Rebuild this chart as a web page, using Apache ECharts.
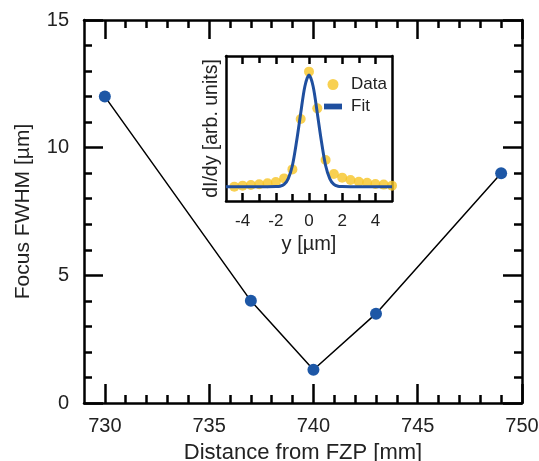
<!DOCTYPE html>
<html><head><meta charset="utf-8">
<script src="https://cdn.jsdelivr.net/npm/echarts@6/dist/echarts.min.js"></script>
<style>html,body{margin:0;padding:0;background:#fff}#c{width:539px;height:461px}</style>
</head><body><div id="c"></div>
<script>
// Main data
const distance = [730, 737, 740, 743, 749];
const fwhm = [12, 4, 1.3, 3.5, 9];
const xMajorTicks = [730, 735, 740, 745, 750];
const xMinorTicks = [730,731,732,733,734,735,736,737,738,739,740,741,742,743,744,745,746,747,748,749,750];
// Inset data
const insetX = [-4.5,-4,-3.5,-3,-2.5,-2,-1.5,-1,-0.5,0,0.5,1,1.5,2,2.5,3,3.5,4,4.5,5];
const insetY = [0.099,0.106,0.110,0.115,0.122,0.131,0.156,0.218,0.566,0.892,0.639,0.283,0.186,0.161,0.145,0.133,0.126,0.117,0.113,0.106];
const fitX = [-5,-4,-3,-2.5,-2,-1.75,-1.5,-1.25,-1,-0.75,-0.5,-0.25,0,0.25,0.5,0.75,1,1.25,1.5,1.75,2,2.5,3,4,5];
const fitY = [0.099,0.099,0.099,0.099,0.100,0.102,0.114,0.155,0.245,0.410,0.605,0.790,0.869,0.790,0.605,0.410,0.245,0.155,0.114,0.102,0.100,0.099,0.099,0.099,0.099];
const insetLabelTicks = [-4, -2, 0, 2, 4];
const insetOddTicks = [-3, -1, 1, 3];

const font = 'Liberation Sans, Arial, Helvetica, sans-serif';
const txt = '#222';

function xAx(grid, pos, min, max, ticks, len, labels, fontSize, margin, showLine, name, nameSize, nameGap) {
  const o = {
    type: 'value', gridIndex: grid, position: pos, min: min, max: max,
    splitLine: {show: false},
    axisLine: {show: showLine, onZero: false, lineStyle: {color: '#000', width: 2.5}},
    axisTick: {show: true, inside: true, length: len, customValues: ticks, lineStyle: {color: '#000', width: 2.5}},
    axisLabel: labels ? {show: true, customValues: labels, fontSize: fontSize, color: txt, fontFamily: font, margin: margin} : {show: false}
  };
  if (name) {
    o.name = name; o.nameLocation = 'middle'; o.nameGap = nameGap;
    o.nameTextStyle = {fontSize: nameSize, color: txt, fontFamily: font};
  }
  return o;
}

const option = {
  backgroundColor: '#fff',
  animation: false,
  grid: [
    {left: 84, right: 17, top: 20, bottom: 58, containLabel: false, outerBoundsMode: 'none'},
    {left: 226, width: 166, top: 56, height: 145, show: true, backgroundColor: '#fff', borderWidth: 0, containLabel: false, outerBoundsMode: 'none'}
  ],
  legend: {
    show: true, orient: 'vertical', left: 319, top: 71, itemGap: 5,
    itemWidth: 18, itemHeight: 11, symbolKeepAspect: true,
    textStyle: {fontSize: 17, color: txt, fontFamily: font, padding: [0, 0, 0, 4]},
    data: [
      {name: 'Data', icon: 'circle'},
      {name: 'Fit', icon: 'path://M0,0 L10,0 L10,3.2 L0,3.2 Z'}
    ]
  },
  xAxis: [
    xAx(0, 'bottom', 729, 750, xMajorTicks, 19, xMajorTicks, 20, 13, true, 'Distance from FZP [mm]', 22, 39),
    xAx(0, 'bottom', 729, 750, xMinorTicks, 8, null, 20, 13, false),
    xAx(0, 'top', 729, 750, xMajorTicks, 19, null, 20, 13, true),
    xAx(0, 'top', 729, 750, xMinorTicks, 8, null, 20, 13, false),
    xAx(1, 'bottom', -5, 5, insetLabelTicks, 8, insetLabelTicks, 17, 12, true, 'y [\u00b5m]', 20, 33),
    xAx(1, 'bottom', -5, 5, insetOddTicks, 7, null, 17, 12, false),
    xAx(1, 'top', -5, 5, insetLabelTicks, 8, null, 17, 12, true),
    xAx(1, 'top', -5, 5, insetOddTicks, 7, null, 17, 12, false)
  ],
  yAxis: [
    {type: 'value', gridIndex: 0, position: 'left', min: 0, max: 15, interval: 5,
     splitLine: {show: false},
     axisLine: {show: true, onZero: false, lineStyle: {color: '#000', width: 2.5}},
     axisTick: {show: true, inside: true, length: 19, lineStyle: {color: '#000', width: 2.5}},
     minorTick: {show: true, splitNumber: 5, length: 8, lineStyle: {color: '#000', width: 2.5}},
     axisLabel: {fontSize: 20, color: txt, fontFamily: font, margin: 15},
     name: 'Focus FWHM [\u00b5m]', nameLocation: 'middle', nameGap: 50,
     nameTextStyle: {fontSize: 21, color: txt, fontFamily: font}},
    {type: 'value', gridIndex: 0, position: 'right', min: 0, max: 15, interval: 5,
     splitLine: {show: false},
     axisLine: {show: true, onZero: false, lineStyle: {color: '#000', width: 2.5}},
     axisTick: {show: true, inside: true, length: 19, lineStyle: {color: '#000', width: 2.5}},
     minorTick: {show: true, splitNumber: 5, length: 8, lineStyle: {color: '#000', width: 2.5}},
     axisLabel: {show: false}},
    {type: 'value', gridIndex: 1, position: 'left', min: 0, max: 1,
     splitLine: {show: false},
     axisLine: {show: true, onZero: false, lineStyle: {color: '#000', width: 2.5}},
     axisTick: {show: false}, axisLabel: {show: false},
     name: 'dI/dy [arb. units]', nameLocation: 'middle', nameGap: 4,
     nameTextStyle: {fontSize: 19.5, color: txt, fontFamily: font}},
    {type: 'value', gridIndex: 1, position: 'right', min: 0, max: 1,
     splitLine: {show: false},
     axisLine: {show: true, onZero: false, lineStyle: {color: '#000', width: 2.5}},
     axisTick: {show: false}, axisLabel: {show: false}}
  ],
  series: [
    {type: 'line', name: 'FWHM', xAxisIndex: 0, yAxisIndex: 0,
     data: distance.map((d, i) => [d, fwhm[i]]),
     symbol: 'circle', symbolSize: 12,
     lineStyle: {color: '#000', width: 1.5},
     itemStyle: {color: '#1d57a6'}, z: 3},
    {type: 'scatter', name: 'Data', xAxisIndex: 4, yAxisIndex: 2,
     data: insetX.map((d, i) => [d, insetY[i]]),
     symbolSize: 10, itemStyle: {color: '#f6c426'}, z: 4},
    {type: 'line', name: 'Fit', xAxisIndex: 4, yAxisIndex: 2,
     data: fitX.map((d, i) => [d, fitY[i]]),
     smooth: 0.3, symbol: 'none',
     lineStyle: {color: '#1f4f9f', width: 3}, itemStyle: {color: '#1f4f9f'}, z: 5}
  ]
};
echarts.init(document.getElementById('c'), null, {renderer: 'canvas'}).setOption(option);
</script></body></html>
